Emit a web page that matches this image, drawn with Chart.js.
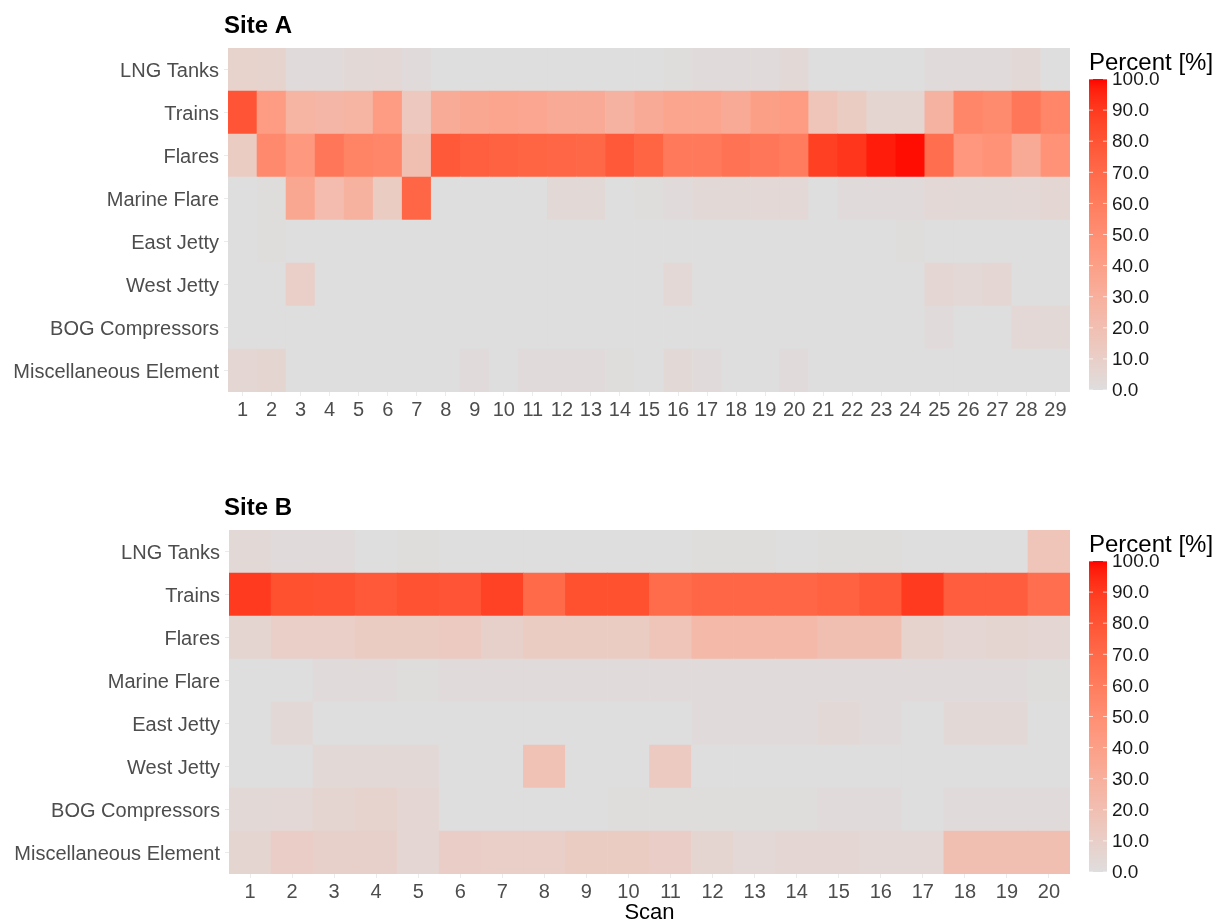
<!DOCTYPE html>
<html>
<head>
<meta charset="utf-8">
<script src="https://cdn.jsdelivr.net/npm/chart.js@4.4.1/dist/chart.umd.min.js"></script>
<style>
  body { margin: 0; background: #fff; }
  canvas { display: block; }
</style>
</head>
<body>
<canvas id="siteA" width="1219" height="462"></canvas>
<canvas id="siteB" width="1219" height="462"></canvas>
<script>
/* ---------- categories (top to bottom) ---------- */
const rowNames = ["LNG Tanks", "Trains", "Flares", "Marine Flare", "East Jetty",
  "West Jetty", "BOG Compressors", "Miscellaneous Element"];

/* ---------- scan labels ---------- */
const siteAScans = ["1","2","3","4","5","6","7","8","9","10","11","12","13","14","15",
  "16","17","18","19","20","21","22","23","24","25","26","27","28","29"];
const siteBScans = ["1","2","3","4","5","6","7","8","9","10","11","12","13","14","15",
  "16","17","18","19","20"];

/* ---------- Site A percent values ---------- */
const aLngTanks   = [8,7,2,2,3,4,2,0,0,0, 0,0,0,0,0,1,2,2,2,3, 0,0,0,0,2,2,2,3,0];
const aTrains     = [80,42,27,25,27,42,14,32,35,37, 36,33,33,28,33,37,37,33,40,42, 17,12,6,6,28,55,52,63,55];
const aFlares     = [12,53,44,63,56,55,20,78,75,74, 73,72,71,78,73,62,62,65,63,60, 88,91,97,99,68,45,48,33,48];
const aMarine     = [0,1,35,22,29,12,72,0,0,0, 0,3,3,0,1,2,3,3,4,4, 0,2,2,2,4,3,3,4,5];
const aEastJetty  = [0,1,0,0,0,0,0,0,0,0, 0,0,0,0,0,0,0,0,0,0, 0,0,0,1,0,0,0,0,0];
const aWestJetty  = [0,0,10,0,0,0,0,0,0,0, 0,0,0,0,0,4,0,0,0,0, 0,0,0,0,5,4,5,0,0];
const aBog        = [0,0,0,0,0,0,0,0,0,0, 0,0,0,0,0,0,0,0,0,0, 0,0,0,0,2,0,0,4,3];
const aMisc       = [5,6,0,0,0,0,0,0,2,0, 2,2,2,1,0,3,2,0,0,2, 0,0,0,0,0,0,0,0,0];

/* ---------- Site B percent values ---------- */
const bLngTanks   = [3,2,2,0,1,0,0,0,0,0, 0,1,1,0,1,1,0,0,0,17];
const bTrains     = [90,82,81,78,81,80,87,70,82,82, 69,72,72,72,74,78,90,76,76,68];
const bFlares     = [6,10,10,12,12,13,9,12,12,12, 17,24,24,24,20,20,7,5,6,5];
const bMarine     = [0,0,2,2,1,2,2,2,2,2, 2,2,2,2,2,2,2,2,2,1];
const bEastJetty  = [0,3,0,0,0,0,0,0,0,0, 0,2,2,2,3,2,0,3,3,0];
const bWestJetty  = [0,0,3,3,3,0,0,18,0,0, 13,0,0,0,0,0,0,0,0,0];
const bBog        = [3,4,6,7,5,0,0,0,0,1, 1,1,1,1,2,2,0,2,2,2];
const bMisc       = [6,11,9,9,5,11,10,10,12,12, 11,6,4,5,5,4,4,20,20,20];

/* ---------- colour bar ticks ---------- */
const legendTicks = [0, 10, 20, 30, 40, 50, 60, 70, 80, 90, 100];

const siteARows = [aLngTanks, aTrains, aFlares, aMarine, aEastJetty, aWestJetty, aBog, aMisc];
const siteBRows = [bLngTanks, bTrains, bFlares, bMarine, bEastJetty, bWestJetty, bBog, bMisc];

/* --------------- grey -> red gradient, interpolated in CIELAB --------------- */
const lowColor = [222, 222, 222];
const highColor = [255, 0, 0];

function toLab(rgb) {
  const lin = rgb.map(c => { c /= 255; return c <= 0.04045 ? c / 12.92 : Math.pow((c + 0.055) / 1.055, 2.4); });
  const X = (0.4124 * lin[0] + 0.3576 * lin[1] + 0.1805 * lin[2]) / 0.95047;
  const Y = (0.2126 * lin[0] + 0.7152 * lin[1] + 0.0722 * lin[2]);
  const Z = (0.0193 * lin[0] + 0.1192 * lin[1] + 0.9505 * lin[2]) / 1.08883;
  const f = t => t > 0.008856 ? Math.cbrt(t) : 7.787 * t + 16 / 116;
  return [116 * f(Y) - 16, 500 * (f(X) - f(Y)), 200 * (f(Y) - f(Z))];
}
function fromLab(lab) {
  const fy = (lab[0] + 16) / 116, fx = fy + lab[1] / 500, fz = fy - lab[2] / 200;
  const inv = t => t * t * t > 0.008856 ? t * t * t : (t - 16 / 116) / 7.787;
  const X = inv(fx) * 0.95047, Y = inv(fy), Z = inv(fz) * 1.08883;
  const lin = [
    3.2406 * X - 1.5372 * Y - 0.4986 * Z,
    -0.9689 * X + 1.8758 * Y + 0.0415 * Z,
    0.0557 * X - 0.2040 * Y + 1.0570 * Z
  ];
  return lin.map(c => {
    c = c <= 0.0031308 ? 12.92 * c : 1.055 * Math.pow(c, 1 / 2.4) - 0.055;
    return Math.round(Math.min(1, Math.max(0, c)) * 255);
  });
}
const lowLab = toLab(lowColor), highLab = toLab(highColor);
function fillFor(v) {
  const t = Math.min(1, Math.max(0, v / 100));
  const c = fromLab(lowLab.map((l, i) => l + (highLab[i] - l) * t));
  return `rgb(${c[0]},${c[1]},${c[2]})`;
}

const FONT = '"Liberation Sans", Arial, Helvetica, sans-serif';

/* --------------- title + colour bar legend --------------- */
const decor = {
  id: 'decor',
  afterDraw(chart, args, opts) {
    const { ctx, chartArea } = chart;
    ctx.save();
    ctx.textBaseline = 'middle';
    ctx.fillStyle = '#000';
    ctx.font = 'bold 24px ' + FONT;
    ctx.fillText(opts.title, 224, chartArea.top - 22);

    ctx.font = '24px ' + FONT;
    ctx.fillStyle = '#000';
    ctx.fillText('Percent [%]', 1089, chartArea.top + 15);

    const x0 = 1089, w = 18;
    const yTop = chartArea.top + 31, yBot = chartArea.bottom - 2;
    for (let y = yTop; y < yBot; y++) {
      ctx.fillStyle = fillFor((yBot - y - 0.5) / (yBot - yTop) * 100);
      ctx.fillRect(x0, y, w, 1);
    }
    ctx.font = '19px ' + FONT;
    legendTicks.forEach(v => {
      const y = yBot - v / 100 * (yBot - yTop);
      ctx.strokeStyle = 'rgba(255,255,255,0.7)';
      ctx.lineWidth = 1;
      ctx.beginPath();
      ctx.moveTo(x0, y); ctx.lineTo(x0 + 4, y);
      ctx.moveTo(x0 + w - 4, y); ctx.lineTo(x0 + w, y);
      ctx.stroke();
      ctx.fillStyle = '#1a1a1a';
      ctx.fillText(v.toFixed(1), 1112, y + 1);
    });
    ctx.restore();
  }
};

function heatmap(id, scans, rows, title, padTop, leftW, xH, padBottom, showScan) {
  const datasets = [];
  for (let r = rows.length - 1; r >= 0; r--) {
    datasets.push({
      label: rowNames[r],
      data: scans.map(() => 1),
      backgroundColor: rows[r].map(fillFor),
      borderWidth: 0,
      categoryPercentage: 1,
      barPercentage: 1
    });
  }
  return new Chart(document.getElementById(id), {
    type: 'bar',
    plugins: [decor],
    data: { labels: scans, datasets },
    options: {
      responsive: false,
      animation: false,
      layout: { padding: { top: padTop, right: 149, bottom: padBottom, left: 0 } },
      plugins: {
        legend: { display: false },
        tooltip: { enabled: false },
        decor: { title }
      },
      scales: {
        x: {
          stacked: true,
          border: { display: false },
          grid: { offset: false, drawOnChartArea: false, color: '#EBEBEB', tickLength: 4 },
          ticks: { color: '#4D4D4D', font: { size: 20, family: FONT }, padding: 2, autoSkip: false, maxRotation: 0 },
          title: { display: showScan, text: 'Scan', color: '#000', font: { size: 22, family: FONT, lineHeight: 1 }, padding: 0 },
          afterFit: s => { s.height = xH; }
        },
        y: {
          stacked: true,
          min: 0,
          max: rowNames.length,
          border: { display: false },
          grid: { drawOnChartArea: false, color: '#EBEBEB', tickLength: 4 },
          afterBuildTicks: s => { s.ticks = rowNames.map((_, i) => ({ value: i + 0.5 })); },
          ticks: {
            color: '#4D4D4D',
            font: { size: 20, family: FONT },
            padding: 5,
            labelOffset: 2,
            callback: v => rowNames[rowNames.length - 1 - Math.floor(v)]
          },
          afterFit: s => { s.width = leftW; }
        }
      }
    }
  });
}

heatmap('siteA', siteAScans, siteARows, 'Site A', 48, 228, 30, 40, false);
heatmap('siteB', siteBScans, siteBRows, 'Site B', 68, 229, 50, 0, true);
</script>
</body>
</html>
